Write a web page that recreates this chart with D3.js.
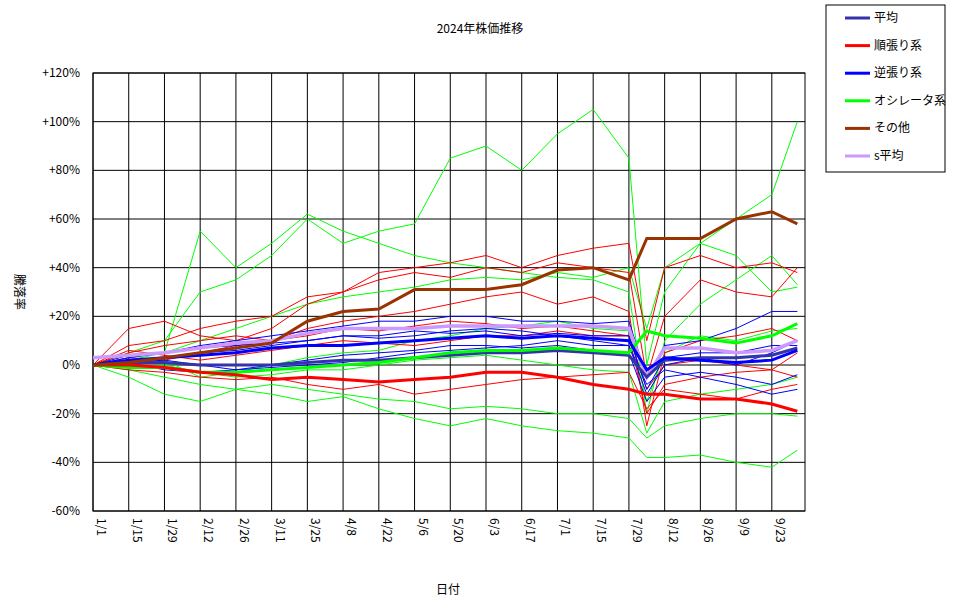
<!DOCTYPE html><html><head><meta charset="utf-8"><script src="https://cdn.jsdelivr.net/npm/d3@7"></script>
<style>body{margin:0;background:#fff}text{font-family:"Noto Sans CJK JP",sans-serif;font-size:12px}</style></head><body>
<svg id="c" width="970" height="604"></svg>
<script>
const dates=["2024-01-01","2024-01-15","2024-01-29","2024-02-12","2024-02-26","2024-03-11","2024-03-25","2024-04-08","2024-04-22","2024-05-06","2024-05-20","2024-06-03","2024-06-17","2024-07-01","2024-07-15","2024-07-29","2024-08-05","2024-08-12","2024-08-26","2024-09-09","2024-09-23","2024-10-03"];
const tickLabels=["1/1","1/15","1/29","2/12","2/26","3/11","3/25","4/8","4/22","5/6","5/20","6/3","6/17","7/1","7/15","7/29","8/12","8/26","9/9","9/23"];
const yTicks=[-60,-40,-20,0,20,40,60,80,100,120];
const avg=[0,1,1,0,0,0,1,2,2,3,4,5,5,6,5,4,-5,2,3,3,4,7];
const trend=[0,0,-1,-3,-4,-6,-5,-6,-7,-6,-5,-3,-3,-5,-8,-10,-12,-12,-14,-14,-16,-19];
const contra=[0,2,3,4,5,7,8,8,9,10,11,12,11,12,11,10,-2,3,2,1,2,6];
const osc=[0,-1,-1,-3,-3,-2,-1,0,1,3,5,6,6,7,6,5,14,12,11,9,12,17];
const other=[0,1,3,5,7,9,18,22,23,31,31,31,33,39,40,35,52,52,52,60,63,58];
const savg=[3,4,5,7,9,10,13,15,15,15,16,16,16,16,16,15,-5,7,7,5,6,10];
const redThin=[
[0,15,18,12,10,15,25,30,38,40,42,45,40,45,48,50,10,40,45,40,42,38],
[0,8,10,15,18,20,28,30,35,38,36,40,38,42,40,38,-5,20,35,30,28,40],
[0,5,8,10,12,10,15,18,20,22,25,28,30,25,28,22,-25,5,10,12,15,10],
[0,3,2,5,8,10,12,15,14,16,18,17,15,16,14,12,-20,-8,-5,-3,-2,5],
[0,-2,-3,-5,-6,-5,-8,-10,-8,-12,-10,-8,-6,-5,-4,-3,-18,-10,-12,-14,-10,-8],
[0,6,4,2,4,6,8,10,9,8,10,12,12,14,12,12,-10,0,2,0,-2,-5]];
const blueThin=[
[0,3,5,8,10,12,14,16,18,18,20,20,18,18,17,18,-5,8,10,15,22,22],
[0,2,3,5,6,8,10,12,12,14,13,14,12,13,12,12,-10,3,5,5,8,8],
[0,1,-2,-3,-2,0,2,4,5,6,8,8,7,8,6,5,-15,-5,-3,-5,-8,-4],
[0,4,5,7,8,9,10,12,11,12,14,15,14,12,10,8,-8,-2,-5,-8,-12,-10],
[0,1,2,0,-2,-1,0,1,3,5,6,7,8,10,8,8,-12,0,3,0,5,10]];
const greenThin=[
[0,5,10,30,35,45,60,50,55,58,85,90,80,95,105,85,0,30,50,60,70,100],
[0,3,5,55,40,50,62,55,50,45,42,40,38,36,35,30,-20,10,25,35,45,33],
[0,-5,-12,-15,-10,-12,-15,-13,-18,-22,-25,-22,-25,-27,-28,-30,-38,-38,-37,-40,-42,-35],
[0,-2,-5,-8,-10,-8,-10,-12,-14,-15,-18,-17,-18,-20,-20,-22,-30,-25,-22,-20,-20,-21],
[0,2,5,10,15,20,25,28,30,32,35,36,35,38,36,40,15,40,50,45,30,32],
[0,1,2,-5,-3,0,3,5,6,10,12,15,16,18,15,14,-15,5,12,10,14,15],
[0,-1,0,-3,-5,-4,-2,-2,0,2,3,4,2,0,-2,-3,-28,-15,-12,-10,-8,-5]];
const legendNames=["平均","順張り系","逆張り系","オシレータ系","その他","s平均"];
const legendColors=["#3333aa","#ff0000","#0000ff","#00ff00","#993300","#cc99ff"];

const svg=d3.select("#c");
const pd=d3.timeParse("%Y-%m-%d");
const x=d3.scaleTime().domain([pd("2024-01-01"),pd("2024-10-06")]).range([93,805]);
const y=d3.scaleLinear().domain([-60,120]).range([511,73]);
const tickDates=tickLabels.map((t,i)=>d3.timeDay.offset(pd("2024-01-01"),i*14));
const g=svg.append("g");
g.selectAll(".vg").data(tickDates).join("line").attr("x1",d=>x(d)).attr("x2",d=>x(d)).attr("y1",73).attr("y2",511).attr("stroke","#000");
g.selectAll(".hg").data(yTicks).join("line").attr("x1",93).attr("x2",805).attr("y1",d=>y(d)).attr("y2",d=>y(d)).attr("stroke","#000");
g.append("rect").attr("x",93).attr("y",73).attr("width",712).attr("height",438).attr("fill","none").attr("stroke","#000");
svg.selectAll(".yl").data(yTicks).join("text").attr("x",80).attr("y",d=>y(d)+4).attr("text-anchor","end").text(d=>(d>0?"+":"")+d+"%");
svg.selectAll(".xl").data(tickDates).join("text").attr("transform",d=>`translate(${x(d)+4},518) rotate(90)`).text((d,i)=>tickLabels[i]);
svg.append("text").attr("x",480).attr("y",33).attr("text-anchor","middle").text("2024年株価推移");
svg.append("text").attr("x",448).attr("y",594).attr("text-anchor","middle").text("日付");
svg.append("text").attr("transform","translate(15,292) rotate(90)").attr("text-anchor","middle").text("騰落率");
const line=d3.line().x((d,i)=>x(pd(dates[i]))).y(d=>y(d));
const draw=(arr,c,w)=>svg.append("path").attr("d",line(arr)).attr("fill","none").attr("stroke",c).attr("stroke-width",w);
greenThin.forEach(a=>draw(a,"#00ff00",1));
redThin.forEach(a=>draw(a,"#ff0000",1));
blueThin.forEach(a=>draw(a,"#0000ff",1));
draw(savg,"#cc99ff",3.5);
draw(avg,"#3333aa",3);
draw(osc,"#00ff00",3);
draw(trend,"#ff0000",3);
draw(contra,"#0000ff",3);
draw(other,"#993300",3);
svg.append("rect").attr("x",826).attr("y",5).attr("width",119).attr("height",167).attr("fill","#fff").attr("stroke","#000");
legendNames.forEach((n,i)=>{const yy=18+i*27.6;
svg.append("line").attr("x1",845).attr("x2",870).attr("y1",yy).attr("y2",yy).attr("stroke",legendColors[i]).attr("stroke-width",3);
svg.append("text").attr("x",874).attr("y",yy+4).text(n);});
</script></body></html>
